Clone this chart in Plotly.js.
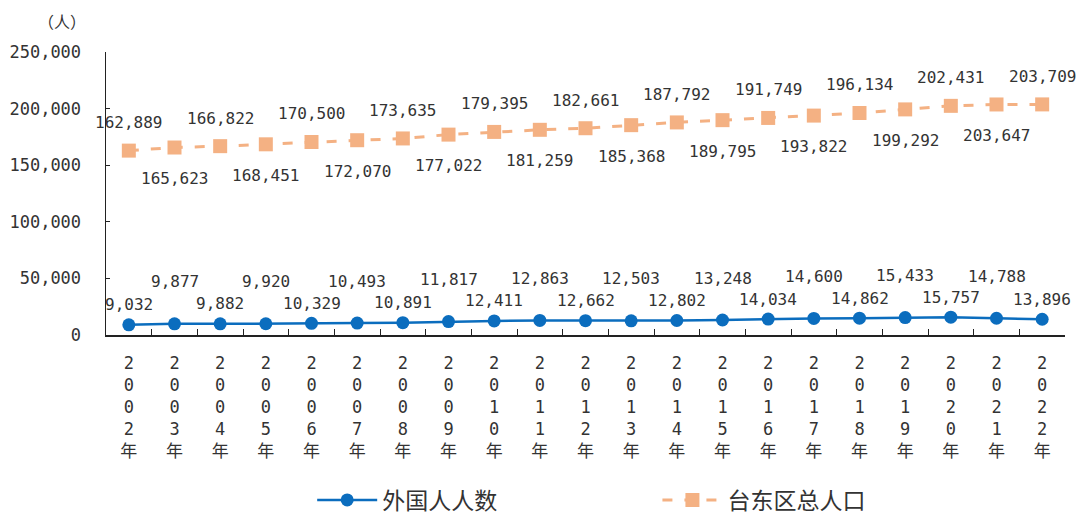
<!DOCTYPE html>
<html><head><meta charset="utf-8">
<script src="https://cdn.plot.ly/plotly-3.0.1.min.js"></script>
<style>body{margin:0;background:#fff}#c{width:1079px;height:516px}</style>
</head><body><div id="c"></div>
<script>
const years = ["2002","2003","2004","2005","2006","2007","2008","2009","2010","2011","2012","2013","2014","2015","2016","2017","2018","2019","2020","2021","2022"];
const foreign = [9032,9877,9882,9920,10329,10493,10891,11817,12411,12863,12662,12503,12802,13248,14034,14600,14862,15433,15757,14788,13896];
const total = [162889,165623,166822,168451,170500,172070,173635,177022,179395,181259,182661,185368,187792,189795,191749,193822,196134,199292,202431,203647,203709];
const seriesNames = ["外国人人数","台东区总人口"];
const yTicks = [0,50000,100000,150000,200000,250000];

const numFont = "DejaVu Sans Mono, Noto Sans CJK SC, monospace";
const cjkFont = "Noto Sans CJK SC, sans-serif";
const txt = "#333333";
const fmt = v => v.toLocaleString("en-US");

const tickText = years.map(y => y.split("").join("<br>") + "<br>年");

const traces = [
  {x: years, y: foreign, name: seriesNames[0], type: "scatter", mode: "lines+markers", legend: "legend",
   line: {color: "#0B6DBE", width: 2.5}, marker: {color: "#0B6DBE", size: 13, symbol: "circle"}},
  {x: years, y: total, name: seriesNames[1], type: "scatter", mode: "lines+markers", legend: "legend2",
   line: {color: "#F4B183", width: 3, dash: "10px,12px"}, marker: {color: "#F4B183", size: 14, symbol: "square"}}
];

const ann = [];
years.forEach((yr, i) => {
  ann.push({x: i, y: foreign[i], text: fmt(foreign[i]), showarrow: false,
    yshift: i % 2 === 0 ? 20 : 42, font: {family: numFont, size: 16, color: txt}});
  ann.push({x: i, y: total[i], text: fmt(total[i]), showarrow: false,
    yshift: i % 2 === 0 ? 28 : -31, font: {family: numFont, size: 16, color: txt}});
});
ann.push({xref: "paper", yref: "paper", x: -0.046, y: 1.11, xanchor: "center", yanchor: "middle",
  text: "（人）", showarrow: false, font: {family: cjkFont, size: 16, color: txt}});

const legFont = {family: cjkFont, size: 23, color: txt};
const layout = {
  width: 1079, height: 516,
  margin: {l: 106, r: 14, t: 52, b: 181, autoexpand: false},
  paper_bgcolor: "#fff", plot_bgcolor: "#fff",
  showlegend: true,
  legend: {orientation: "h", x: 0.215, xanchor: "left", y: -0.583, yanchor: "middle",
    font: legFont, itemwidth: 60, bgcolor: "rgba(0,0,0,0)"},
  legend2: {orientation: "h", x: 0.575, xanchor: "left", y: -0.583, yanchor: "middle",
    font: legFont, itemwidth: 60, bgcolor: "rgba(0,0,0,0)"},
  xaxis: {type: "category", tickvals: years, ticktext: tickText, showgrid: false,
    showline: true, linecolor: "#222", linewidth: 1.5, ticks: "inside", ticklen: 6,
    tickcolor: "#222", tickson: "boundaries", range: [-0.5, years.length - 0.5],
    ticklabelstandoff: 12,
    tickfont: {family: numFont, size: 17, color: txt}, zeroline: false},
  yaxis: {range: [0, 250000], tickvals: yTicks, ticktext: yTicks.map(fmt), showgrid: false,
    showline: true, linecolor: "#222", linewidth: 1.5, ticks: "inside", ticklen: 4,
    tickcolor: "#222", ticklabelstandoff: 20, zeroline: false,
    tickfont: {family: numFont, size: 17, color: txt}},
  annotations: ann
};

Plotly.newPlot("c", traces, layout, {displayModeBar: false, staticPlot: true});
</script></body></html>
